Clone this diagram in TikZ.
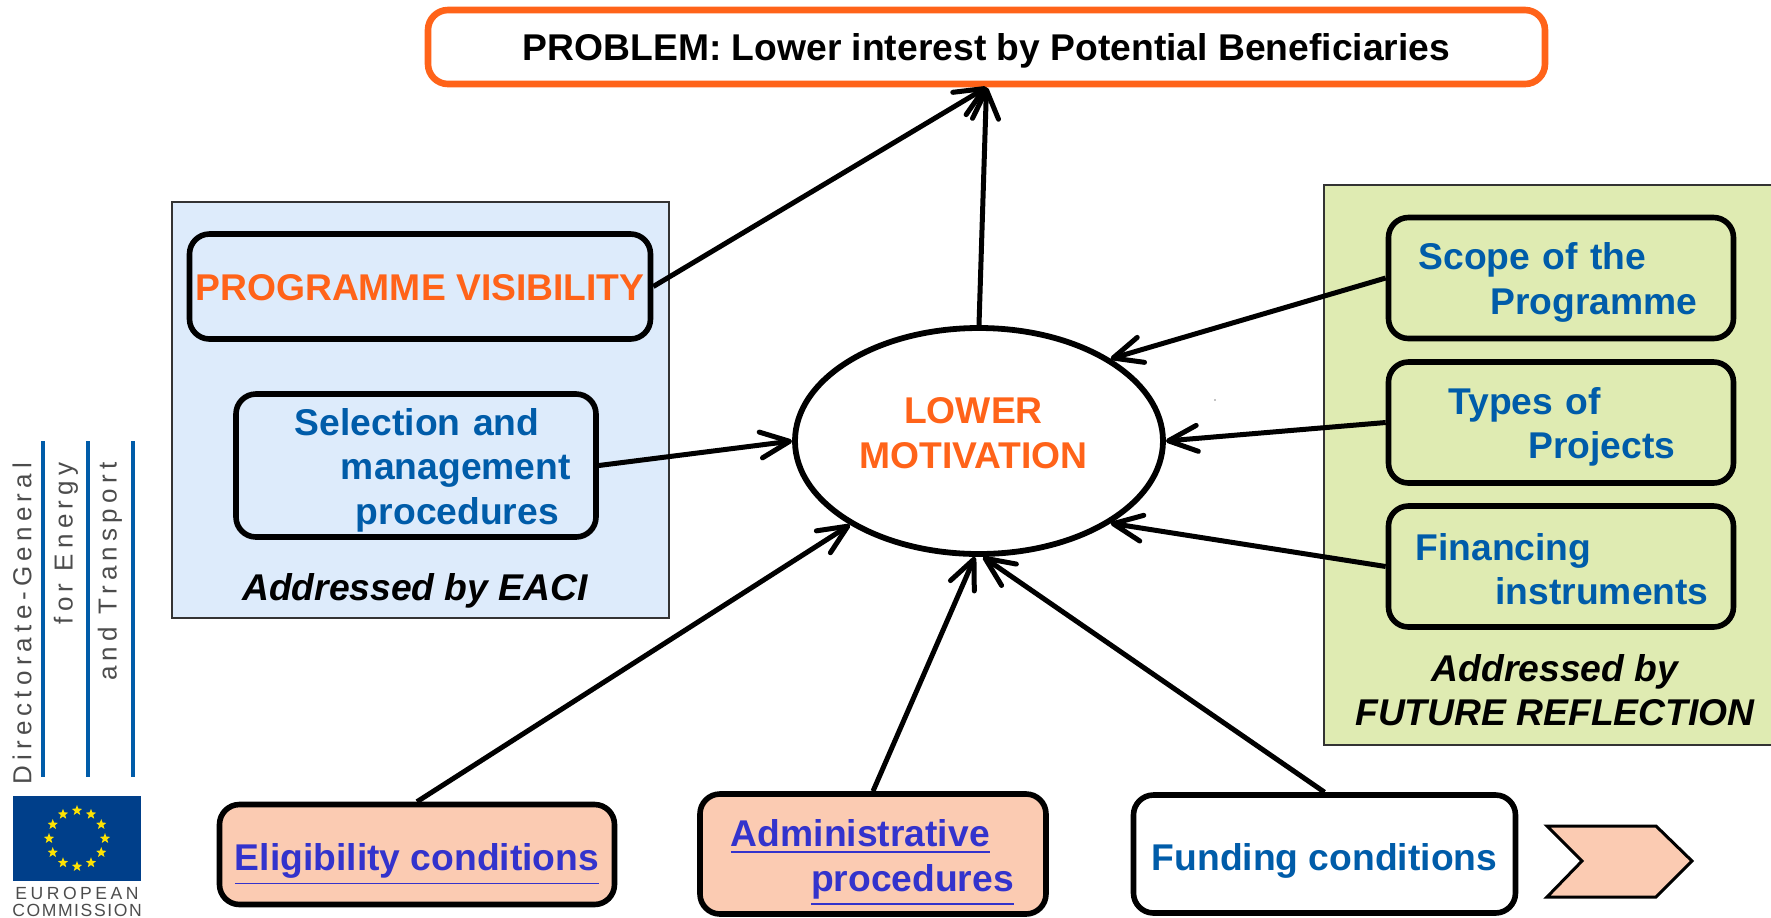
\documentclass[tikz,border=0pt]{standalone}
\usepackage{fontspec}
\setmainfont{Liberation Sans}
\usetikzlibrary{positioning, shapes.geometric, arrows.meta}

\definecolor{ecblue}{HTML}{005CA9}
\definecolor{ecorange}{HTML}{FF6319}
\definecolor{eclink}{HTML}{3333CC}
\definecolor{eaciback}{HTML}{DDEBFB}
\definecolor{futureback}{HTML}{DFEBB2}
\definecolor{pinkback}{HTML}{FBCBB2}
\definecolor{flagblue}{HTML}{003F8A}

\begin{document}
\begin{tikzpicture}[every node/.style={font=\fontsize{10.6}{12.7}\selectfont\bfseries}]
  % Styles
  \tikzset{
    panel/.style={rectangle, draw=black!80, line width=0.22mm, inner sep=0pt},
    issue/.style={rectangle, rounded corners=2mm, draw=black, line width=0.56mm, inner sep=0pt, align=left, text=ecblue},
    oneline/.style={text height=2.7mm, text depth=0pt},
    note/.style={font=\fontsize{10.6}{12.7}\selectfont\bfseries\itshape, align=center},
    logotext/.style={font=\fontsize{7.4}{8}\selectfont\addfontfeature{LetterSpace=20}, text=black!70, rotate=90, anchor=east, inner sep=0pt},
    flagtext/.style={font=\fontsize{5}{6}\selectfont, text=black!70, inner sep=0pt},
    rule/.style={draw=ecblue, line width=0.45mm},
    flow/.style={-{Straight Barb[length=2.9mm, width=2.6mm, round, line width=0.5mm]}, line width=0.5mm}
  }
  \useasboundingbox (0,0) rectangle (17.71,-9.17);

  % Panels behind the boxes
  \node[panel, fill=eaciback, minimum width=4.97cm, minimum height=4.16cm] (eaci) at (4.205,-4.10) {};
  \node[panel, fill=futureback, minimum width=4.60cm, minimum height=5.60cm] (future) at (15.54,-4.65) {};

  % Problem and centre
  \node[rectangle, rounded corners=2mm, oneline, draw=ecorange, line width=0.66mm, minimum width=11.17cm, minimum height=0.74cm, fill=white] (problem) at (9.865,-0.47) {PROBLEM: Lower interest by Potential Beneficiaries};
  \node[ellipse, draw=black, line width=0.58mm, fill=white, minimum width=3.68cm, minimum height=2.26cm, inner sep=0pt, label={[xshift=-0.55mm, yshift=0.8mm, align=center, text=ecorange]center:LOWER\\MOTIVATION}] (motivation) at (9.79,-4.41) {};

  % Left panel
  \node[issue, oneline, minimum width=4.61cm, minimum height=1.05cm, text=ecorange, align=center] (visibility) at (4.20,-2.865) {PROGRAMME VISIBILITY};
  \node[issue, text width=3.60cm, minimum height=1.43cm] (selection) at (4.16,-4.655) {\rule{0pt}{3.6mm}\hspace*{0.59cm}Selection and\\\hspace*{1.05cm}management\\\hspace*{1.20cm}procedures};
  \node[note] (eacinote) at (4.15,-5.91) {Addressed by EACI};

  % Right panel
  \node[issue, text width=3.45cm, minimum height=1.21cm] (scope) at (15.61,-2.78) {\rule{0pt}{3.6mm}\hspace*{0.30cm}Scope of the\\\hspace*{1.02cm}Programme};
  \node[issue, text width=3.45cm, minimum height=1.21cm] (types) at (15.61,-4.225) {\rule{0pt}{3.6mm}\hspace*{0.60cm}Types of\\\hspace*{1.40cm}Projects};
  \node[issue, text width=3.45cm, minimum height=1.21cm] (financing) at (15.61,-5.665) {\rule{0pt}{3.2mm}\hspace*{0.27cm}Financing\\\hspace*{1.07cm}instruments};
  \node[note] (futurenote) at (15.55,-6.90) {Addressed by\\FUTURE REFLECTION};

  % Bottom row
  \node[issue, oneline, text height=3.2mm, fill=pinkback, minimum width=3.95cm, minimum height=1.00cm, align=center, text=eclink] (eligibility) at (4.17,-8.545) {\underline{Eligibility conditions}};
  \node[issue, fill=pinkback, text width=3.46cm, minimum height=1.20cm, text=eclink] (admin) at (8.73,-8.54) {\rule{0pt}{4.5mm}\hspace*{0.31cm}\underline{Administrative}\\\hspace*{1.11cm}\underline{procedures}};
  \node[issue, oneline, text height=3.2mm, minimum width=3.82cm, minimum height=1.18cm, align=center] (funding) at (13.245,-8.54) {Funding conditions};
  \draw[black, line width=0.3mm, fill=pinkback] (15.47,-8.26) -- (16.56,-8.26) -- (16.92,-8.61) -- (16.56,-8.97) -- (15.47,-8.97) -- (15.82,-8.61) -- cycle;

  % Flows to the problem
  \draw[flow] (visibility.east) -- (problem.south);
  \draw[flow] (motivation.north) -- (problem.south);

  % Flows to the motivation
  \draw[flow] (selection.east) -- (motivation.west);
  \draw[flow] (scope.west) -- (motivation.32);
  \draw[flow] (types.west) -- (motivation.east);
  \draw[flow] (financing.west) -- (motivation.-32);
  \draw[flow] (eligibility.north) -- (motivation.213);
  \draw[flow] (admin.north) -- (motivation.268);
  \draw[flow] (funding.north) -- (motivation.272);

  % Stray dot
  \fill[black] (12.15,-4.00) circle (0.007);

  % Logo
  \foreach \x in {0.43, 0.88, 1.33} {
    \draw[rule] (\x,-4.41) -- (\x,-7.77);
  }
  \node[logotext] (dg) at (0.22,-4.62) {Directorate-General};
  \node[logotext] (energy) at (0.66,-4.62) {for Energy};
  \node[logotext] (transport) at (1.10,-4.62) {and Transport};
  \node[rectangle, fill=flagblue, minimum width=1.28cm, minimum height=0.85cm, inner sep=0pt] (flag) at (0.77,-8.385) {};
  \foreach \a in {0,30,...,330} {
    \node[star, star points=5, star point ratio=2.4, fill=yellow!85!orange, inner sep=0pt, minimum size=0.11cm] (star\a) at ([shift={(\a:0.28)}]flag.center) {};
  }
  \node[flagtext] (european) at (0.77,-8.93) {\addfontfeature{LetterSpace=20}EUROPEAN};
  \node[flagtext] (commission) at (0.77,-9.10) {\addfontfeature{LetterSpace=9}COMMISSION};
\end{tikzpicture}
\end{document}
